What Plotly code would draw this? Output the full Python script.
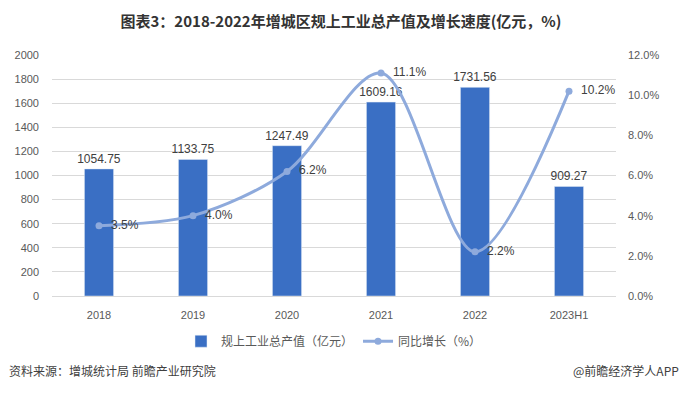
import plotly.graph_objects as go

categories = ["2018", "2019", "2020", "2021", "2022", "2023H1"]
output_values = [1054.75, 1133.75, 1247.49, 1609.16, 1731.56, 909.27]
growth_values = [3.5, 4.0, 6.2, 11.1, 2.2, 10.2]
left_ticks = list(range(0, 2001, 200))
right_ticks = [0, 2, 4, 6, 8, 10, 12]

font_family = "Liberation Sans, Noto Sans CJK SC, sans-serif"
cjk = "Noto Sans CJK SC, sans-serif"
tick_color = "#595959"

fig = go.Figure()
fig.add_trace(go.Bar(
    x=categories, y=output_values, name="规上工业总产值（亿元）",
    marker_color="#3a6fc4", width=0.31,
    text=[f"{v:.2f}" for v in output_values], textposition="outside",
    textfont=dict(size=12, color="#404040", family=font_family),
    constraintext="none",
    cliponaxis=False,
))
fig.add_trace(go.Scatter(
    x=categories, y=growth_values, name="同比增长（%）", yaxis="y2",
    mode="lines+markers+text", line=dict(color="#8eaadc", width=3, shape="spline", smoothing=0.9),
    marker=dict(size=7, color="#8eaadc"),
    text=["\u00a0\u00a0" + f"{v:.1f}%" for v in growth_values], textposition="middle right",
    textfont=dict(size=12, color="#404040", family=font_family),
    cliponaxis=False,
))

fig.update_layout(
    width=682, height=394,
    margin=dict(l=52, r=66, t=55, b=98, autoexpand=False),
    paper_bgcolor="white", plot_bgcolor="white",
    font=dict(family=font_family, color=tick_color, size=11),
    title=dict(text="<b>图表3：2018-2022年增城区规上工业总产值及增长速度(亿元，%)</b>",
               x=0.5, xanchor="center", y=0.944, yanchor="middle",
               font=dict(family=cjk, size=15, color="#333333")),
    xaxis=dict(showgrid=False, showline=True, linecolor="#d9d9d9", tickfont=dict(size=11, color=tick_color),
               ticks="", ticklabelstandoff=9),
    yaxis=dict(range=[0, 2000], tickvals=left_ticks, showgrid=True, gridcolor="#d9d9d9",
               zeroline=False, tickfont=dict(size=11, color=tick_color), ticks="", ticklabelstandoff=12),
    yaxis2=dict(range=[0, 12], tickvals=right_ticks, ticktext=[f"{t:.1f}%" for t in right_ticks],
                overlaying="y", side="right", showgrid=False, zeroline=False,
                tickfont=dict(size=11, color=tick_color), ticks="", ticklabelstandoff=11),
    legend=dict(orientation="h", x=0.5, xanchor="center", yref="container", y=0.134, yanchor="middle",
                font=dict(family=cjk, size=12, color=tick_color)),
    showlegend=True,
)

fig.add_annotation(text="资料来源：增城统计局 前瞻产业研究院", xref="paper", yref="paper",
                   x=-0.08, y=-0.31, xanchor="left", yanchor="middle", showarrow=False,
                   font=dict(family=cjk, size=12, color="#404040"))
fig.add_annotation(text="@前瞻经济学人APP", xref="paper", yref="paper",
                   x=1.115, y=-0.31, xanchor="right", yanchor="middle", showarrow=False,
                   font=dict(family=cjk, size=12, color="#404040"))

fig.write_html("out.html", config={"displayModeBar": False},
               post_script="document.body.style.margin='0';document.body.style.padding='0';")
